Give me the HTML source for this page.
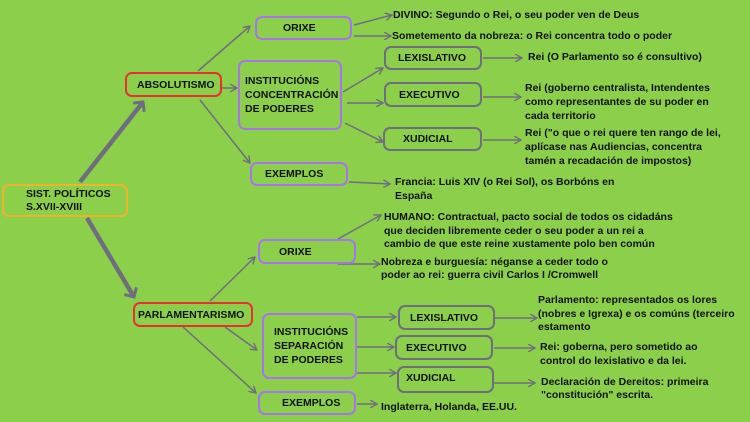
<!DOCTYPE html>
<html><head><meta charset="utf-8"><style>
body{margin:0;width:750px;height:422px;background:#8ccf4a;position:relative;overflow:hidden;font-family:"Liberation Sans",sans-serif;font-weight:bold;color:#111;}
.b{position:absolute;box-sizing:border-box;border-radius:7px;font-size:10.5px;display:flex;align-items:center;}
.p{border:2.5px solid #a874ee;}
.g{border:2.5px solid #6e6e7e;}
.r{border:2.5px solid #e8302e;}
.o{border:2.5px solid #f0b42c;}
.t{position:absolute;font-size:10.5px;line-height:14px;white-space:nowrap;}
svg{position:absolute;left:0;top:0;}
</style></head><body>
<svg width="750" height="422">
<defs><marker id="a" markerWidth="8" markerHeight="8" refX="7" refY="4" orient="auto" markerUnits="userSpaceOnUse"><path d="M0,0 L7,4 L0,8" fill="none" stroke="#6e6e7e" stroke-width="1.4"/></marker>
<marker id="A" markerWidth="16" markerHeight="16" refX="8" refY="8" orient="auto" markerUnits="userSpaceOnUse"><path d="M1,1 L8,8 L1,15" fill="none" stroke="#6e6e7e" stroke-width="3"/></marker></defs>
<g stroke="#6e6e7e" stroke-width="1.5" fill="none">
<line x1="80" y1="182" x2="143" y2="102" stroke-width="4.5" marker-end="url(#A)"/>
<line x1="87" y1="218" x2="134" y2="297" stroke-width="4.5" marker-end="url(#A)"/>
<line x1="198" y1="71" x2="250" y2="26" marker-end="url(#a)"/>
<line x1="222" y1="88" x2="237" y2="88" marker-end="url(#a)"/>
<line x1="200" y1="100" x2="250" y2="163" marker-end="url(#a)"/>
<line x1="354" y1="25" x2="392" y2="15" marker-end="url(#a)"/>
<line x1="354" y1="36" x2="391" y2="36" marker-end="url(#a)"/>
<line x1="343" y1="92" x2="383" y2="68" marker-end="url(#a)"/>
<line x1="347" y1="103" x2="383" y2="103" marker-end="url(#a)"/>
<line x1="345" y1="123" x2="383" y2="142" marker-end="url(#a)"/>
<line x1="483" y1="58" x2="522" y2="58" marker-end="url(#a)"/>
<line x1="483" y1="97" x2="521" y2="97" marker-end="url(#a)"/>
<line x1="483" y1="140" x2="521" y2="140" marker-end="url(#a)"/>
<line x1="349" y1="182" x2="390" y2="184" marker-end="url(#a)"/>
<line x1="210" y1="301" x2="255" y2="257" marker-end="url(#a)"/>
<line x1="225" y1="327" x2="257" y2="350" marker-end="url(#a)"/>
<line x1="183" y1="327" x2="256" y2="393" marker-end="url(#a)"/>
<line x1="338" y1="239" x2="381" y2="215" marker-end="url(#a)"/>
<line x1="338" y1="264" x2="380" y2="264" marker-end="url(#a)"/>
<line x1="357" y1="317" x2="396" y2="317" marker-end="url(#a)"/>
<line x1="357" y1="347" x2="394" y2="347" marker-end="url(#a)"/>
<line x1="357" y1="373" x2="396" y2="373" marker-end="url(#a)"/>
<line x1="495" y1="318" x2="537" y2="318" marker-end="url(#a)"/>
<line x1="494" y1="348" x2="535" y2="348" marker-end="url(#a)"/>
<line x1="494" y1="383" x2="535" y2="383" marker-end="url(#a)"/>
<line x1="357" y1="404" x2="377" y2="404" marker-end="url(#a)"/>
</g></svg>
<div class="b o" style="left:2px;top:184px;width:126px;height:33px;padding-left:22px;line-height:13px">SIST. POLÍTICOS<br>S.XVII-XVIII</div>
<div class="b r" style="left:125px;top:72px;width:97px;height:25px;padding-left:10px">ABSOLUTISMO</div>
<div class="b p" style="left:255px;top:16px;width:97px;height:24px;padding-left:26px">ORIXE</div>
<div class="b p" style="left:238px;top:60px;width:104px;height:70px;padding-left:5px;line-height:14px">INSTITUCIÓNS<br>CONCENTRACIÓN<br>DE PODERES</div>
<div class="b p" style="left:250px;top:162px;width:98px;height:24px;padding-left:13px">EXEMPLOS</div>
<div class="b g" style="left:384px;top:46px;width:98px;height:24px;padding-left:12px">LEXISLATIVO</div>
<div class="b g" style="left:384px;top:82px;width:98px;height:25px;padding-left:13px">EXECUTIVO</div>
<div class="b g" style="left:383px;top:127px;width:99px;height:24px;padding-left:18px">XUDICIAL</div>
<div class="t" style="left:393px;top:8px">DIVINO: Segundo o Rei, o seu poder ven de Deus</div>
<div class="t" style="left:392px;top:29px">Sometemento da nobreza: o Rei concentra todo o poder</div>
<div class="t" style="left:528px;top:50px">Rei (O Parlamento so é consultivo)</div>
<div class="t" style="left:525px;top:81px">Rei (goberno centralista, Intendentes<br>como representantes de su poder en<br>cada territorio</div>
<div class="t" style="left:525px;top:126px">Rei ("o que o rei quere ten rango de lei,<br>aplícase nas Audiencias, concentra<br>tamén a recadación de impostos)</div>
<div class="t" style="left:395px;top:175px">Francia: Luis XIV (o Rei Sol), os Borbóns en<br>España</div>
<div class="b r" style="left:133px;top:302px;width:120px;height:25px;padding-left:3px">PARLAMENTARISMO</div>
<div class="b p" style="left:258px;top:239px;width:98px;height:25px;padding-left:19px">ORIXE</div>
<div class="b p" style="left:262px;top:313px;width:95px;height:66px;padding-left:10px;line-height:14px">INSTITUCIÓNS<br>SEPARACIÓN<br>DE PODERES</div>
<div class="b p" style="left:258px;top:391px;width:98px;height:24px;padding-left:22px">EXEMPLOS</div>
<div class="b g" style="left:398px;top:305px;width:97px;height:25px;padding-left:10px">LEXISLATIVO</div>
<div class="b g" style="left:395px;top:335px;width:98px;height:25px;padding-left:9px">EXECUTIVO</div>
<div class="b g" style="left:397px;top:366px;width:97px;height:27px;padding-left:7px;align-items:flex-start;padding-top:4px">XUDICIAL</div>
<div class="t" style="left:384px;top:211px;line-height:13.5px">HUMANO: Contractual, pacto social de todos os cidadáns<br>que deciden libremente ceder o seu poder a un rei a<br>cambio de que este reine xustamente polo ben común</div>
<div class="t" style="left:381px;top:256px;line-height:13px">Nobreza e burguesía: néganse a ceder todo o<br>poder ao rei: guerra civil Carlos I /Cromwell</div>
<div class="t" style="left:538px;top:294px;line-height:13.5px">Parlamento: representados os lores<br>(nobres e Igrexa) e os comúns (terceiro<br>estamento</div>
<div class="t" style="left:540px;top:341px;line-height:13.5px">Rei: goberna, pero sometido ao<br>control do lexislativo e da lei.</div>
<div class="t" style="left:541px;top:376px;line-height:13px">Declaración de Dereitos: primeira<br>"constitución" escrita.</div>
<div class="t" style="left:381px;top:400px">Inglaterra, Holanda, EE.UU.</div>
</body></html>
